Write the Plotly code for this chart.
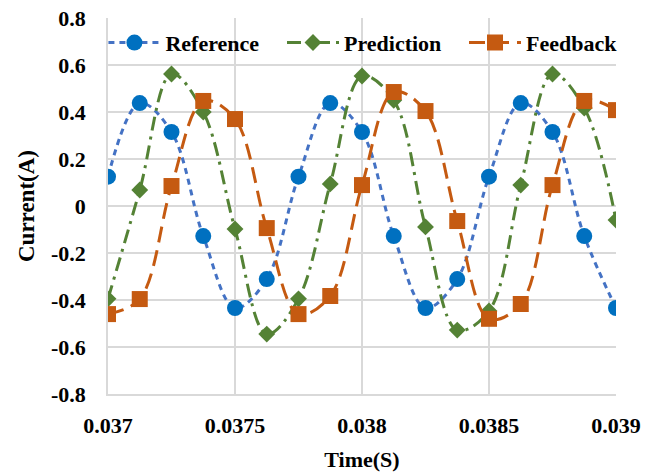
import plotly.graph_objects as go

time = [0.037 + i * 0.000125 for i in range(17)]
reference = [0.125, 0.438, 0.315, -0.128, -0.434, -0.311, 0.125, 0.438, 0.315, -0.128, -0.434, -0.311, 0.125, 0.438, 0.315, -0.128, -0.434]
prediction = [-0.395, 0.068, 0.562, 0.40, -0.098, -0.545, -0.395, 0.094, 0.553, 0.45, -0.089, -0.528, -0.447, 0.089, 0.562, 0.417, -0.06]
feedback = [-0.46, -0.396, 0.085, 0.447, 0.37, -0.094, -0.46, -0.383, 0.089, 0.485, 0.404, -0.064, -0.48, -0.417, 0.089, 0.447, 0.408]

x_ticks = [0.037, 0.0375, 0.038, 0.0385, 0.039]
x_tick_labels = ["0.037", "0.0375", "0.038", "0.0385", "0.039"]
y_ticks = [-0.8, -0.6, -0.4, -0.2, 0, 0.2, 0.4, 0.6, 0.8]
y_tick_labels = ["-0.8", "-0.6", "-0.4", "-0.2", "0", "0.2", "0.4", "0.6", "0.8"]

font_family = "Liberation Serif"
bold22 = dict(size=22, family=font_family, weight="bold", color="black")

fig = go.Figure()
fig.add_trace(go.Scatter(
    x=time, y=reference, name="Reference", mode="lines+markers", legend="legend", showlegend=True,
    line=dict(color="#4472C4", width=3, dash="6px,5px", shape="spline"),
    marker=dict(symbol="circle", size=16, color="#0070C0"),
))
fig.add_trace(go.Scatter(
    x=time, y=prediction, name="Prediction", mode="lines+markers", legend="legend2", showlegend=True,
    line=dict(color="#548235", width=3, dash="14px,6px,3px,6px", shape="spline"),
    marker=dict(symbol="diamond", size=13, color="#548235"),
))
fig.add_trace(go.Scatter(
    x=time, y=feedback, name="Feedback", mode="lines+markers", legend="legend3", showlegend=True,
    line=dict(color="#C55A11", width=3, dash="16px,8px", shape="spline"),
    marker=dict(symbol="square", size=16, color="#C55A11"),
))

def leg(xpos):
    return dict(orientation="h", x=xpos, y=0.99, xanchor="left", yanchor="top", visible=True,
                bgcolor="rgba(0,0,0,0)", font=bold22, itemwidth=52)

fig.update_layout(
    width=659, height=474,
    margin=dict(l=108, r=43, t=18, b=80),
    paper_bgcolor="white", plot_bgcolor="white",
    showlegend=True,
    font=dict(family=font_family, size=22, color="black"),
    legend=leg(-0.009), legend2=leg(0.3425), legend3=leg(0.7008),
    xaxis=dict(
        range=[0.037, 0.039], tickvals=x_ticks, ticktext=x_tick_labels, automargin=False,
        showgrid=True, gridcolor="#D9D9D9", gridwidth=1.5,
        showline=True, linecolor="#D9D9D9", linewidth=1.5, zeroline=False,
        ticks="", tickfont=bold22, ticklabelstandoff=11,
        title=dict(text="Time(S)", font=bold22, standoff=14),
    ),
    yaxis=dict(
        range=[-0.8, 0.8], tickvals=y_ticks, ticktext=y_tick_labels, automargin=False,
        showgrid=True, gridcolor="#D9D9D9", gridwidth=1.5,
        showline=True, linecolor="#D9D9D9", linewidth=1.5, zeroline=False,
        ticks="", tickfont=bold22, ticklabelstandoff=16,
        title=dict(text="Current(A)", font=dict(size=23, family=font_family, weight="bold", color="black"), standoff=10),
    ),
)

fig.write_html("out.html")
